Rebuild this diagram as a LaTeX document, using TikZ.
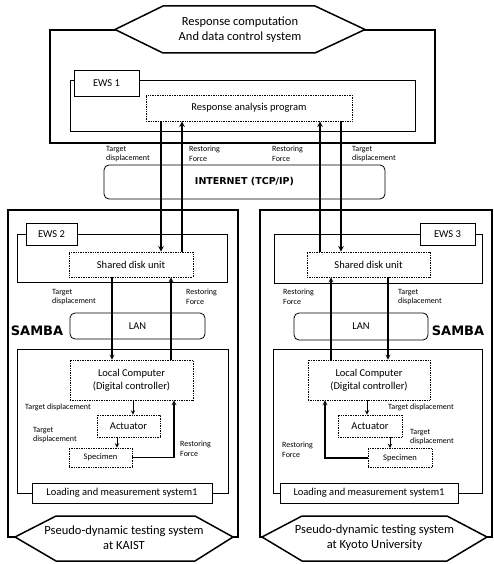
\documentclass[tikz,border=0pt]{standalone}
\usepackage{fontspec}
\setmainfont{Carlito}
\newfontfamily\widebold{DejaVu Sans}
\usepackage{tikz}
\usetikzlibrary{arrows.meta,positioning}

\tikzset{
	frame/.style={draw,line width=1.5pt},
	panel/.style={draw,line width=0.8pt},
	tabbox/.style={draw,fill=white,line width=0.8pt,font=\fontsize{10.5}{12}\selectfont},
	dotbox/.style={draw,densely dotted,fill=white,line width=0.7pt,align=center,font=\fontsize{10.5}{13}\selectfont},
	netbox/.style={draw,rounded corners=5pt,line width=0.8pt,font=\fontsize{10.5}{12}\selectfont},
	hexline/.style={draw,fill=white,line width=1.5pt,line join=miter},
	hexlabel/.style={align=center,font=\fontsize{12.5}{15}\selectfont},
	samba/.style={font=\widebold\bfseries\fontsize{13}{15}\selectfont},
	lbl/.style={align=left,anchor=west,font=\fontsize{8}{9.5}\selectfont},
	bigarrow/.style={-stealth,line width=1.5pt},
	midarrow/.style={-stealth,line width=1.2pt},
	smallarrow/.style={-stealth,line width=1pt},
}

\begin{document}
\begin{tikzpicture}[x=1pt,y=-1pt]
	\useasboundingbox (0,0) rectangle (494,564);
	\begin{scope}[every node/.style={inner sep=0pt}]
		\node[frame,minimum width=385,minimum height=113] (outer1) at (242.5,86.5) {};
		\node[panel,minimum width=345,minimum height=51] (ews1) at (242.5,105.5) {};
		\node[tabbox,minimum width=65,minimum height=26] (ews1tab) at (106.5,83) {EWS 1};
		\node[dotbox,minimum width=206,minimum height=26] (rap) at (249,108) {Response analysis program};
		\filldraw[hexline] (115,29.5) -- (163,6) -- (315,6) -- (365,29.5) -- (315,53) -- (163,53) -- cycle;
		\node[hexlabel] (tophex) at (240,30) {Response computation\\And data control system};
		\node[netbox,minimum width=281,minimum height=34,font=\widebold\bfseries\fontsize{9.5}{11}\selectfont] (inet) at (244.5,182) {INTERNET (TCP/IP)};

		\node[frame,minimum width=230,minimum height=327] (outerL) at (123,373.5) {};
		\node[panel,minimum width=210,minimum height=48] (ews2) at (122,258) {};
		\node[tabbox,minimum width=51,minimum height=22] (ews2tab) at (51.5,234) {EWS 2};
		\node[dotbox,minimum width=124,minimum height=25] (sduL) at (131,264.5) {Shared disk unit};
		\node[netbox,minimum width=135,minimum height=26] (lanL) at (137.5,326) {LAN};
		\node[samba] (sambaL) at (37,331) {SAMBA};
		\node[panel,minimum width=211,minimum height=144] (loadL) at (122.5,421) {};
		\node[dotbox,minimum width=123,minimum height=40] (lcL) at (131.5,380) {Local Computer\\(Digital controller)};
		\node[dotbox,minimum width=63,minimum height=22] (actL) at (128.5,426) {Actuator};
		\node[dotbox,minimum width=63,minimum height=19,font=\fontsize{8.5}{10}\selectfont] (specL) at (100.5,457.5) {Specimen};
		\node[tabbox,minimum width=180,minimum height=20] (lmsL) at (122,493) {Loading and measurement system1};
		\filldraw[hexline] (15,537) -- (56,516) -- (195,516) -- (233,537) -- (195,561) -- (56,561) -- cycle;
		\node[hexlabel] (hexL) at (124,538) {Pseudo-dynamic testing system\\at KAIST};

		\node[frame,minimum width=232,minimum height=327] (outerR) at (376,373.5) {};
		\node[panel,minimum width=208,minimum height=49] (ews3) at (378,258.5) {};
		\node[tabbox,minimum width=55,minimum height=22] (ews3tab) at (447.5,234) {EWS 3};
		\node[dotbox,minimum width=123,minimum height=25] (sduR) at (368.5,264.5) {Shared disk unit};
		\node[netbox,minimum width=134,minimum height=27] (lanR) at (361,326.5) {LAN};
		\node[samba] (sambaR) at (458,331) {SAMBA};
		\node[panel,minimum width=209,minimum height=144] (loadR) at (377.5,421) {};
		\node[dotbox,minimum width=122,minimum height=40] (lcR) at (369,380) {Local Computer\\(Digital controller)};
		\node[dotbox,minimum width=64,minimum height=22] (actR) at (370,426) {Actuator};
		\node[dotbox,minimum width=64,minimum height=19,font=\fontsize{8.5}{10}\selectfont] (specR) at (400,458) {Specimen};
		\node[tabbox,minimum width=178,minimum height=20] (lmsR) at (369,493) {Loading and measurement system1};
		\filldraw[hexline] (262,537) -- (302,516) -- (447,516) -- (487,537) -- (447,561) -- (302,561) -- cycle;
		\node[hexlabel] (hexR) at (374.5,538) {Pseudo-dynamic testing system\\at Kyoto University};

		\node[lbl] (tdlab1) at (106,154) {Target\\displacement};
		\node[lbl] (rflab1) at (189,154) {Restoring\\Force};
		\node[lbl] (rflab2) at (272,154) {Restoring\\Force};
		\node[lbl] (tdlab2) at (352,154) {Target\\displacement};
		\node[lbl] (tdlab3) at (52,297) {Target\\displacement};
		\node[lbl] (rflab3) at (186,297) {Restoring\\Force};
		\node[lbl] (rflab4) at (283,297) {Restoring\\Force};
		\node[lbl] (tdlab4) at (398,297) {Target\\displacement};
		\node[lbl] (tdlab5) at (25,407) {Target displacement};
		\node[lbl] (tdlab6) at (33,435) {Target\\displacement};
		\node[lbl] (rflab5) at (180,449) {Restoring\\Force};
		\node[lbl] (tdlab7) at (388,407) {Target displacement};
		\node[lbl] (tdlab8) at (410,437) {Target\\displacement};
		\node[lbl] (rflab6) at (282,450) {Restoring\\Force};
	\end{scope}

	\coordinate (tdA) at (161,0);
	\coordinate (rfA) at (182,0);
	\coordinate (rfB) at (320,0);
	\coordinate (tdB) at (341,0);
	\coordinate (tdC) at (112,0);
	\coordinate (rfC) at (171,0);
	\coordinate (tdE) at (133,0);
	\coordinate (tdF) at (117,0);
	\coordinate (rfE) at (174,0);
	\coordinate (rfD) at (331,0);
	\coordinate (tdD) at (388,0);
	\coordinate (tdG) at (367,0);
	\coordinate (tdH) at (390,0);
	\coordinate (rfF) at (325,0);

	\draw[bigarrow] (rap.south -| tdA) -- (sduL.north -| tdA);
	\draw[bigarrow] (sduL.north -| rfA) -- (rap.south -| rfA);
	\draw[bigarrow] (sduR.north -| rfB) -- (rap.south -| rfB);
	\draw[bigarrow] (rap.south -| tdB) -- (sduR.north -| tdB);

	\draw[midarrow] (sduL.south -| tdC) -- (lcL.north -| tdC);
	\draw[midarrow] (lcL.north -| rfC) -- (sduL.south -| rfC);
	\draw[smallarrow] (lcL.south -| tdE) -- (actL.north -| tdE);
	\draw[smallarrow] (actL.south -| tdF) -- (specL.north -| tdF);
	\draw[midarrow] (specL.east) -| (lcL.south -| rfE);

	\draw[midarrow] (lcR.north -| rfD) -- (sduR.south -| rfD);
	\draw[midarrow] (sduR.south -| tdD) -- (lcR.north -| tdD);
	\draw[smallarrow] (lcR.south -| tdG) -- (actR.north -| tdG);
	\draw[smallarrow] (actR.south -| tdH) -- (specR.north -| tdH);
	\draw[midarrow] (specR.west) -| (lcR.south -| rfF);
\end{tikzpicture}
\end{document}
